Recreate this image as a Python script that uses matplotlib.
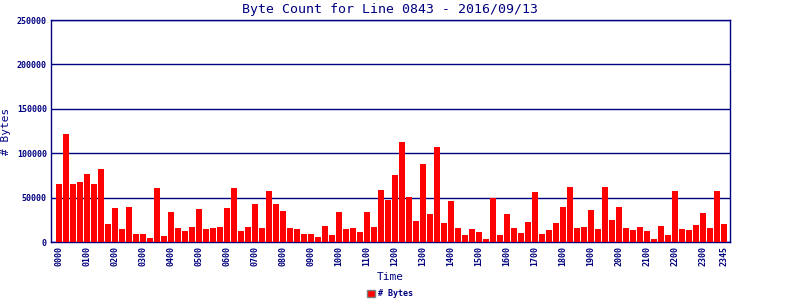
import numpy as np
import matplotlib
matplotlib.use('Agg')
import matplotlib.pyplot as plt

# Byte counts per 15 minute slot
times = ["%02d%02d" % (h, m) for h in range(24) for m in (0, 15, 30, 45)]
byte_counts = [
    64900, 122000, 64900, 67200, 76100, 64900, 81700, 20100,
    38100, 14600, 39200, 9000, 9000, 4500, 60400, 6700,
    33600, 15700, 12300, 16800, 36900, 14600, 15700, 16800,
    38100, 60400, 12300, 16800, 42500, 15700, 57100, 42500,
    34700, 15700, 14600, 9000, 9000, 5600, 17900, 7800,
    33600, 14600, 15700, 11200, 33600, 16800, 58200, 47000,
    75000, 113100, 50400, 23500, 88400, 31300, 107500, 21300,
    45900, 15700, 7800, 14600, 11200, 3400, 49300, 7800,
    31300, 15700, 10100, 22400, 56000, 9000, 13400, 21300,
    39200, 61600, 15700, 16800, 35800, 14600, 61600, 24600,
    39200, 15700, 13400, 16800, 12300, 3400, 17900, 7800,
    57100, 14600, 13400, 19000, 32500, 15700, 57100, 20100,
]
yticks = [0, 50000, 100000, 150000, 200000, 250000]
tick_idx = list(range(0, 96, 4)) + [95]

navy = '#000080'
plt.rcParams['font.family'] = 'DejaVu Sans Mono'

fig = plt.figure(figsize=(8, 3), dpi=100)
ax = fig.add_axes([51 / 800, 58 / 300, 679 / 800, 222 / 300])

x = np.arange(len(byte_counts))
ax.bar(x, byte_counts, width=0.86, color='#ff0000', label='# Bytes', zorder=3)

ax.set_xlim(-1.14, 95.86)
ax.set_ylim(0, 250000)
ax.set_yticks(yticks)
ax.set_yticklabels([str(v) for v in yticks], fontsize=6, color=navy, fontweight='bold')
ax.set_xticks(tick_idx)
ax.set_xticklabels([times[i] for i in tick_idx], rotation=90, fontsize=6,
                   color=navy, fontweight='bold')
ax.tick_params(length=0, pad=3)
ax.grid(axis='y', color=navy, linewidth=1.0, zorder=1)
for s in ax.spines.values():
    s.set_color(navy)
    s.set_linewidth(1.0)

ax.set_title("Byte Count for Line 0843 - 2016/09/13", fontsize=9.5, color=navy, pad=5)
ax.set_ylabel("# Bytes", fontsize=8, color=navy, labelpad=4)
ax.set_xlabel("Time", fontsize=8, color=navy, labelpad=4)

leg = fig.legend(loc='lower center', bbox_to_anchor=(390 / 800, -0.02), frameon=False,
                 fontsize=6, handlelength=1.0, handleheight=1.0, handletextpad=0.4,
                 prop={'weight': 'bold', 'size': 6})
for t in leg.get_texts():
    t.set_color(navy)
for p in leg.get_patches():
    p.set_edgecolor('#808080')

fig.savefig("out.png", dpi=100)
plt.close()
